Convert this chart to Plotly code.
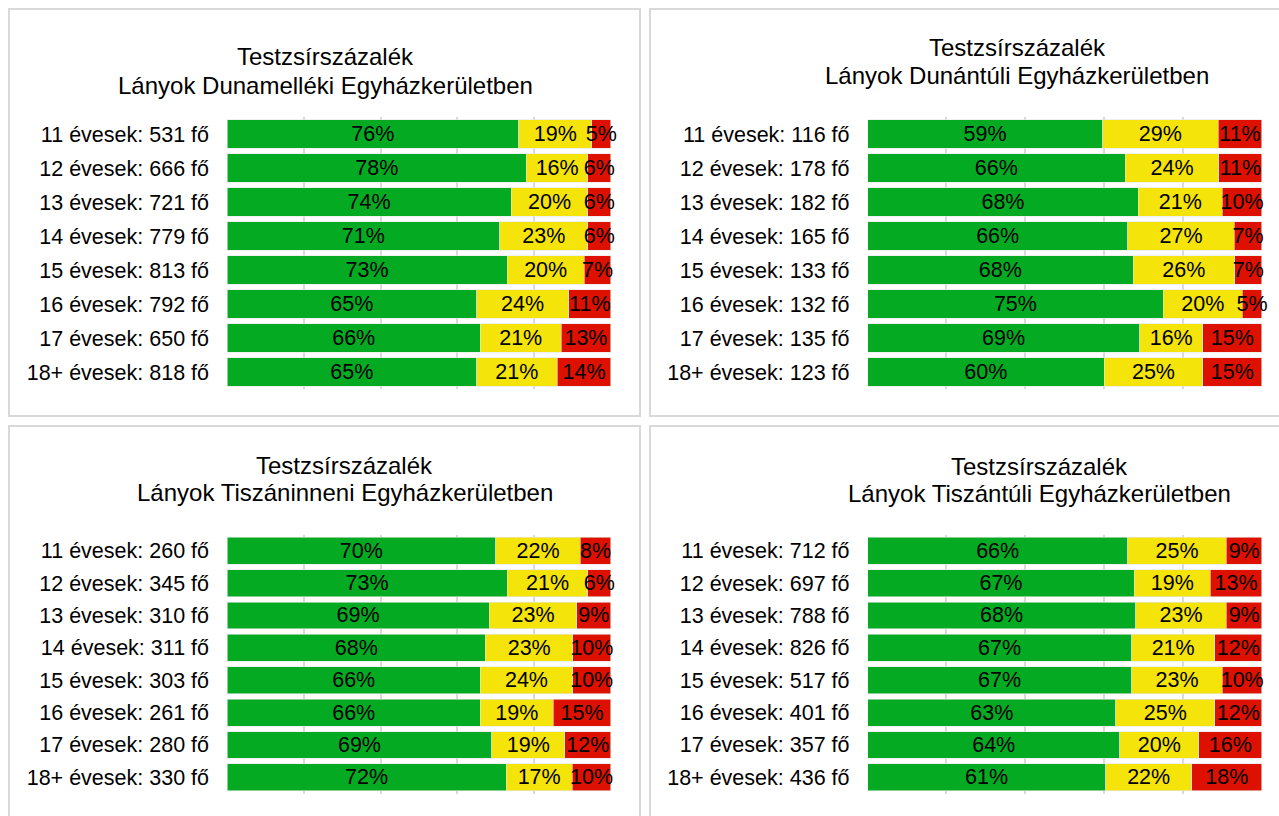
import plotly.graph_objects as go

# ---------------- data ----------------
ages = ["11", "12", "13", "14", "15", "16", "17", "18+"]

title_top = "Testzsírszázalék"
titles = [
    "Lányok Dunamelléki Egyházkerületben",
    "Lányok Dunántúli Egyházkerületben",
    "Lányok Tiszáninneni Egyházkerületben",
    "Lányok Tiszántúli Egyházkerületben",
]

counts_dunamellek = [531, 666, 721, 779, 813, 792, 650, 818]
green_dunamellek = [76, 78, 74, 71, 73, 65, 66, 65]
yellow_dunamellek = [19, 16, 20, 23, 20, 24, 21, 21]
red_dunamellek = [5, 6, 6, 6, 7, 11, 13, 14]

counts_dunantul = [116, 178, 182, 165, 133, 132, 135, 123]
green_dunantul = [59, 66, 68, 66, 68, 75, 69, 60]
yellow_dunantul = [29, 24, 21, 27, 26, 20, 16, 25]
red_dunantul = [11, 11, 10, 7, 7, 5, 15, 15]

counts_tiszaninnen = [260, 345, 310, 311, 303, 261, 280, 330]
green_tiszaninnen = [70, 73, 69, 68, 66, 66, 69, 72]
yellow_tiszaninnen = [22, 21, 23, 23, 24, 19, 19, 17]
red_tiszaninnen = [8, 6, 9, 10, 10, 15, 12, 10]

counts_tiszantul = [712, 697, 788, 826, 517, 401, 357, 436]
green_tiszantul = [66, 67, 68, 67, 67, 63, 64, 61]
yellow_tiszantul = [25, 19, 23, 21, 23, 25, 20, 22]
red_tiszantul = [9, 13, 9, 12, 10, 12, 16, 18]

panels = [
    (counts_dunamellek, green_dunamellek, yellow_dunamellek, red_dunamellek),
    (counts_dunantul, green_dunantul, yellow_dunantul, red_dunantul),
    (counts_tiszaninnen, green_tiszaninnen, yellow_tiszaninnen, red_tiszaninnen),
    (counts_tiszantul, green_tiszantul, yellow_tiszantul, red_tiszantul),
]

# ---------------- layout geometry (pixels) ----------------
W, H = 1279, 816
FONT = "Liberation Sans, Arial, sans-serif"
COLORS = ["#05AA23", "#F5E40A", "#DE1100"]


def px_x(x):
    return x / W


def px_y(y):
    return 1 - y / H


plot_x = [(227, 611), (867.5, 1262), (227, 611), (867.5, 1262)]
plot_y = [(117, 389), (117, 389), (534.5, 793.5), (534.5, 793.5)]
boxes = [(9, 9, 640, 416), (650, 9, 1320, 416), (9, 426, 640, 840), (650, 426, 1320, 840)]
title_pos = [(325, 57, 86), (1017, 47, 75), (345, 465, 492), (1039, 466, 494)]

fig = go.Figure()
layout_axes = {}

for i, (counts, g, yv, r) in enumerate(panels):
    idx = "" if i == 0 else str(i + 1)
    cats = [f"{a} évesek: {n} fő" for a, n in zip(ages, counts)]
    for vals, col in zip((g, yv, r), COLORS):
        fig.add_trace(go.Bar(
            x=vals, y=cats, orientation="h",
            xaxis="x" + idx, yaxis="y" + idx,
            marker=dict(color=col, line=dict(color="#e6e6e6", width=0.6)),
            text=[f"{v}%" for v in vals],
            textposition="inside", insidetextanchor="middle",
            textangle=0, constraintext="none", cliponaxis=False,
            textfont=dict(family=FONT, size=21.5, color="#000000"),
            hoverinfo="skip", showlegend=False,
        ))
    x0, x1 = plot_x[i]
    y0, y1 = plot_y[i]
    layout_axes["xaxis" + idx] = dict(
        domain=[px_x(x0), px_x(x1)], range=[0, 100.02], tick0=0, dtick=20,
        showticklabels=False, showgrid=True, gridcolor="#d9d9d9", gridwidth=1.5,
        zeroline=False, showline=False, ticks="", fixedrange=True,
        anchor="y" + idx,
    )
    layout_axes["yaxis" + idx] = dict(
        domain=[px_y(y1), px_y(y0)], type="category", autorange="reversed",
        showgrid=False, zeroline=False, showline=False, ticks="",
        tickfont=dict(family=FONT, size=21.5, color="#000000"),
        ticklabelstandoff=17, automargin=False, fixedrange=True,
        anchor="x" + idx,
    )

shapes = []
for (bx0, by0, bx1, by1) in boxes:
    shapes.append(dict(
        type="rect", xref="paper", yref="paper",
        x0=px_x(bx0), x1=px_x(bx1), y0=px_y(by1), y1=px_y(by0),
        line=dict(color="#d9d9d9", width=2), fillcolor="rgba(0,0,0,0)",
        layer="below",
    ))

annotations = []
for (cx, ya, yb), t in zip(title_pos, titles):
    for txt, yy in ((title_top, ya), (t, yb)):
        annotations.append(dict(
            text=txt, xref="paper", yref="paper", x=px_x(cx), y=px_y(yy),
            xanchor="center", yanchor="middle", showarrow=False,
            font=dict(family=FONT, size=24, color="#000000"),
        ))

fig.update_layout(
    width=W, height=H,
    margin=dict(l=0, r=0, t=0, b=0),
    paper_bgcolor="white", plot_bgcolor="rgba(0,0,0,0)",
    barmode="stack", barnorm="percent", bargap=0.17,
    font=dict(family=FONT, color="#000000"),
    shapes=shapes, annotations=annotations,
    **layout_axes,
)

fig.write_html(
    "out.html",
    config={"displayModeBar": False},
    post_script="document.body.style.margin='0';document.body.style.overflow='hidden';",
)
